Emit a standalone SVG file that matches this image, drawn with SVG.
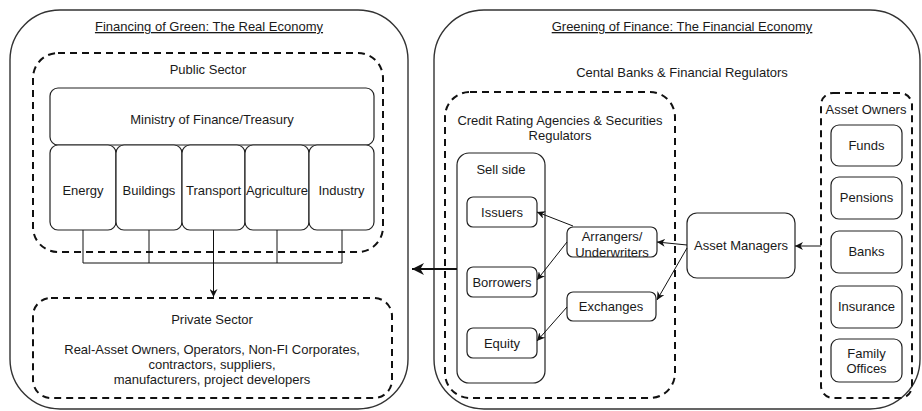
<svg xmlns="http://www.w3.org/2000/svg" width="922" height="411" viewBox="0 0 922 411">
  <style>
    text { font-family: "Liberation Sans", Arial, sans-serif; font-size: 13px; fill: #1a1a1a; text-anchor: middle; }
    .title { text-decoration: underline; }
    .outer { fill: #ffffff; stroke: #333333; stroke-width: 1.4; }
    .dash { fill: none; stroke: #111111; stroke-width: 2; stroke-dasharray: 7 5; }
    .box { fill: #ffffff; stroke: #222222; stroke-width: 1.2; }
    .link { fill: none; stroke: #111111; stroke-width: 1; }
    .big { fill: none; stroke: #111111; stroke-width: 2; }
  </style>
  <defs>
    <marker id="arrow" viewBox="0 0 10 10" refX="10" refY="5" markerWidth="8" markerHeight="8" markerUnits="userSpaceOnUse" orient="auto">
      <path d="M0,0 L10,5 L0,10 L3,5 Z" fill="#111111"/>
    </marker>
    <marker id="arrowBig" viewBox="0 0 10 10" refX="10" refY="5" markerWidth="12" markerHeight="12" markerUnits="userSpaceOnUse" orient="auto">
      <path d="M0,0 L10,5 L0,10 L3,5 Z" fill="#111111"/>
    </marker>
  </defs>
  <rect width="922" height="411" fill="#ffffff"/>

  <!-- Real economy panel -->
  <g id="real-economy">
    <rect class="outer" x="10" y="10" width="398" height="399" rx="50"/>
    <text class="title" x="209" y="31">Financing of Green: The Real Economy</text>
  </g>

  <g id="public-sector">
    <rect class="dash" x="33" y="53" width="350" height="199" rx="25"/>
    <text x="208" y="74">Public Sector</text>
  </g>
  <g id="ministry">
    <rect class="box" x="50" y="88" width="324" height="57" rx="8"/>
    <text x="212" y="124">Ministry of Finance/Treasury</text>
  </g>
  <g id="energy">
    <rect class="box" x="50" y="145" width="66" height="85" rx="8"/>
    <text x="83" y="195">Energy</text>
  </g>
  <g id="buildings">
    <rect class="box" x="116" y="145" width="66" height="85" rx="8"/>
    <text x="149" y="195">Buildings</text>
  </g>
  <g id="transport">
    <rect class="box" x="182" y="145" width="63" height="85" rx="8"/>
    <text x="213.5" y="195">Transport</text>
  </g>
  <g id="agriculture">
    <rect class="box" x="245" y="145" width="64" height="85" rx="8"/>
    <text x="277" y="195">Agriculture</text>
  </g>
  <g id="industry">
    <rect class="box" x="309" y="145" width="65" height="85" rx="8"/>
    <text x="341.5" y="195">Industry</text>
  </g>

  <g id="private-sector">
    <rect class="dash" x="33" y="298" width="359" height="100" rx="18"/>
    <text x="212" y="324">Private Sector</text>
    <text x="212" y="354">Real-Asset Owners, Operators, Non-FI Corporates,</text>
    <text x="212" y="369">contractors, suppliers,</text>
    <text x="212" y="384">manufacturers, project developers</text>
  </g>

  <!-- Financial economy panel -->
  <g id="financial-economy">
    <rect class="outer" x="434" y="10" width="486" height="399" rx="50"/>
    <text class="title" x="682" y="31">Greening of Finance: The Financial Economy</text>
    <text x="682" y="77">Cental Banks &amp; Financial Regulators</text>
  </g>

  <g id="credit-rating">
    <rect class="dash" x="445" y="92" width="230" height="306" rx="25"/>
    <text x="560" y="125">Credit Rating Agencies &amp; Securities</text>
    <text x="560" y="140">Regulators</text>
  </g>
  <g id="sell-side">
    <rect class="box" x="457" y="153" width="88" height="230" rx="12"/>
    <text x="501" y="174">Sell side</text>
  </g>
  <g id="issuers">
    <rect class="box" x="467" y="197" width="70" height="30" rx="6"/>
    <text x="502" y="217">Issuers</text>
  </g>
  <g id="borrowers">
    <rect class="box" x="467" y="267" width="70" height="30" rx="6"/>
    <text x="502" y="287">Borrowers</text>
  </g>
  <g id="equity">
    <rect class="box" x="467" y="328" width="70" height="30" rx="6"/>
    <text x="502" y="348">Equity</text>
  </g>
  <g id="arrangers">
    <rect class="box" x="567" y="227" width="90" height="30" rx="6"/>
    <text x="612" y="241">Arrangers/</text>
    <text x="612" y="257">Underwriters</text>
  </g>
  <g id="exchanges">
    <rect class="box" x="567" y="292" width="89" height="29" rx="6"/>
    <text x="611" y="311">Exchanges</text>
  </g>
  <g id="asset-managers">
    <rect class="box" x="687" y="213" width="108" height="65" rx="10"/>
    <text x="741" y="250">Asset Managers</text>
  </g>

  <g id="asset-owners">
    <rect class="dash" x="821" y="93" width="91" height="305" rx="12"/>
    <text x="866" y="114">Asset Owners</text>
  </g>
  <g id="funds">
    <rect class="box" x="831" y="125" width="71" height="41" rx="8"/>
    <text x="866.5" y="150">Funds</text>
  </g>
  <g id="pensions">
    <rect class="box" x="831" y="177" width="71" height="42" rx="8"/>
    <text x="866.5" y="202">Pensions</text>
  </g>
  <g id="banks">
    <rect class="box" x="831" y="231" width="71" height="42" rx="8"/>
    <text x="866.5" y="256">Banks</text>
  </g>
  <g id="insurance">
    <rect class="box" x="831" y="286" width="71" height="42" rx="8"/>
    <text x="866.5" y="311">Insurance</text>
  </g>
  <g id="family-offices">
    <rect class="box" x="831" y="339" width="71" height="43" rx="8"/>
    <text x="866.5" y="358">Family</text>
    <text x="866.5" y="373">Offices</text>
  </g>

  <!-- Connectors -->
  <g id="connectors">
    <path class="link" d="M83 230 V263 H342 V230"/>
    <path class="link" d="M149 230 V263"/>
    <path class="link" d="M277 230 V263"/>
    <path class="link" d="M213.5 230 V297" marker-end="url(#arrow)"/>
    <path class="big" d="M457 269 H412" marker-end="url(#arrowBig)"/>
    <path class="link" d="M821 246 H795" marker-end="url(#arrow)"/>
    <path class="link" d="M687 245 L657 242" marker-end="url(#arrow)"/>
    <path class="link" d="M687 248 L657 300" marker-end="url(#arrow)"/>
    <path class="link" d="M573 226 L537 212" marker-end="url(#arrow)"/>
    <path class="link" d="M567 242 L537 280" marker-end="url(#arrow)"/>
    <path class="link" d="M567 307 L537 341" marker-end="url(#arrow)"/>
  </g>
</svg>
